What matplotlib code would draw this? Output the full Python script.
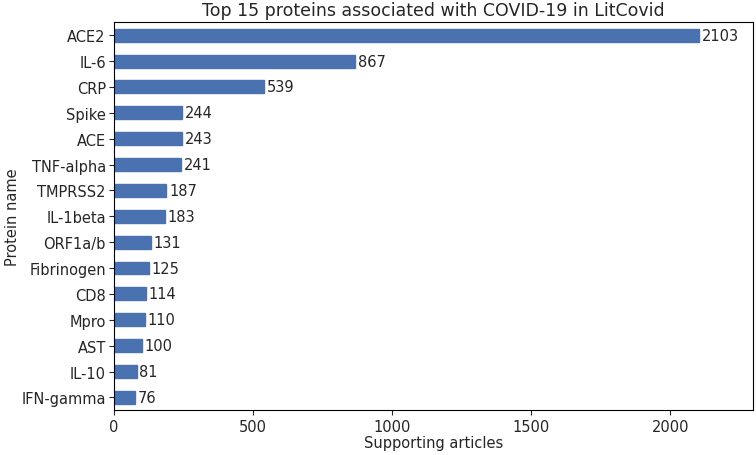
import matplotlib
matplotlib.use('Agg')
import matplotlib.pyplot as plt

proteins = ['ACE2', 'IL-6', 'CRP', 'Spike', 'ACE', 'TNF-alpha', 'TMPRSS2', 'IL-1beta',
            'ORF1a/b', 'Fibrinogen', 'CD8', 'Mpro', 'AST', 'IL-10', 'IFN-gamma']
articles = [2103, 867, 539, 244, 243, 241, 187, 183, 131, 125, 114, 110, 100, 81, 76]

txt = '#262626'
plt.rcParams['text.color'] = txt
plt.rcParams['axes.labelcolor'] = txt
plt.rcParams['xtick.color'] = txt
plt.rcParams['ytick.color'] = txt

fig, ax = plt.subplots(figsize=(7.56, 4.56), dpi=100)
fig.subplots_adjust(left=0.151, right=0.996, top=0.949, bottom=0.098)

pos = list(range(len(proteins)))[::-1]
ax.barh(pos, articles, height=0.5, color='#4a72b0', edgecolor='#4a72b0')
for p, v in zip(pos, articles):
    ax.text(v + 10, p, str(v), va='center', ha='left', fontsize=10.5)

ax.set_yticks(pos)
ax.set_yticklabels(proteins, fontsize=10.5)
ax.set_ylim(-0.5, len(proteins) - 0.5)
ax.set_xlim(0, 2297)
ax.set_xticks([0, 500, 1000, 1500, 2000])
ax.tick_params(axis='x', labelsize=10.5, pad=2.5)
ax.tick_params(axis='y', pad=2.5)
ax.set_xlabel('Supporting articles', fontsize=10.5, labelpad=1)
ax.set_ylabel('Protein name', fontsize=10.5, labelpad=1)
ax.set_title('Top 15 proteins associated with COVID-19 in LitCovid', fontsize=12.5, pad=5)

fig.savefig('out.png', dpi=100)
